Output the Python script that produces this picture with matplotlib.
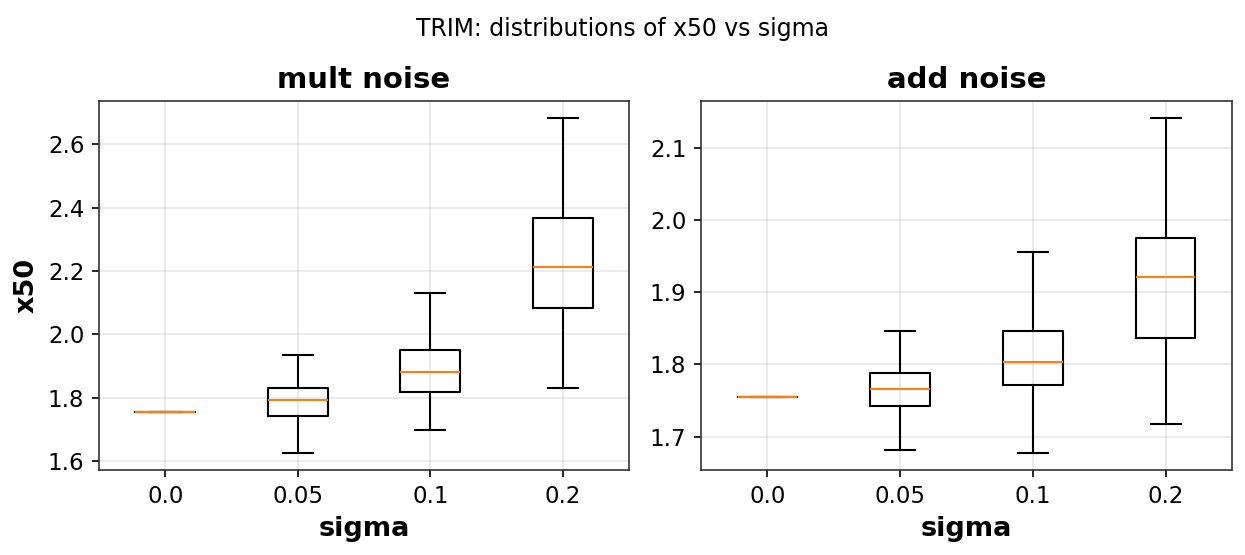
import matplotlib
matplotlib.use("Agg")
import matplotlib.pyplot as plt

sigmas = ["0.0", "0.05", "0.1", "0.2"]

# mult noise: whisker low, q1, median, q3, whisker high
mult_lo = [1.754, 1.625, 1.697, 1.832]
mult_q1 = [1.754, 1.741, 1.819, 2.084]
mult_med = [1.754, 1.792, 1.880, 2.212]
mult_q3 = [1.754, 1.832, 1.952, 2.369]
mult_hi = [1.754, 1.935, 2.131, 2.684]

# add noise
add_lo = [1.755, 1.681, 1.677, 1.717]
add_q1 = [1.755, 1.743, 1.771, 1.837]
add_med = [1.755, 1.766, 1.803, 1.921]
add_q3 = [1.755, 1.788, 1.846, 1.976]
add_hi = [1.755, 1.846, 1.956, 2.142]


def make_stats(lo, q1, med, q3, hi):
    stats = []
    for i in range(len(sigmas)):
        stats.append(dict(label=sigmas[i], whislo=lo[i], q1=q1[i], med=med[i],
                          q3=q3[i], whishi=hi[i], fliers=[]))
    return stats


def draw_panel(ax, stats, title):
    ax.bxp(stats, showfliers=False,
           medianprops=dict(color="#ff7f0e", linewidth=1.0))
    ax.set_title(title, fontsize=14, fontweight="bold")
    ax.set_xlabel("sigma", fontsize=13, fontweight="bold")
    ax.grid(True, alpha=0.3)
    ax.tick_params(labelsize=11)
    for s in ax.spines.values():
        s.set_edgecolor("0.2")


fig = plt.figure(figsize=(8.3, 3.7), dpi=150)
ax1 = fig.add_axes([99 / 1245, 85 / 555, 530 / 1245, 369 / 555])
ax2 = fig.add_axes([701 / 1245, 85 / 555, 531 / 1245, 369 / 555])

draw_panel(ax1, make_stats(mult_lo, mult_q1, mult_med, mult_q3, mult_hi), "mult noise")
draw_panel(ax2, make_stats(add_lo, add_q1, add_med, add_q3, add_hi), "add noise")
ax1.set_ylabel("x50", fontsize=13, fontweight="bold")

fig.suptitle("TRIM: distributions of x50 vs sigma", fontsize=11.3, y=0.97)
fig.savefig("out.png", dpi=150)
